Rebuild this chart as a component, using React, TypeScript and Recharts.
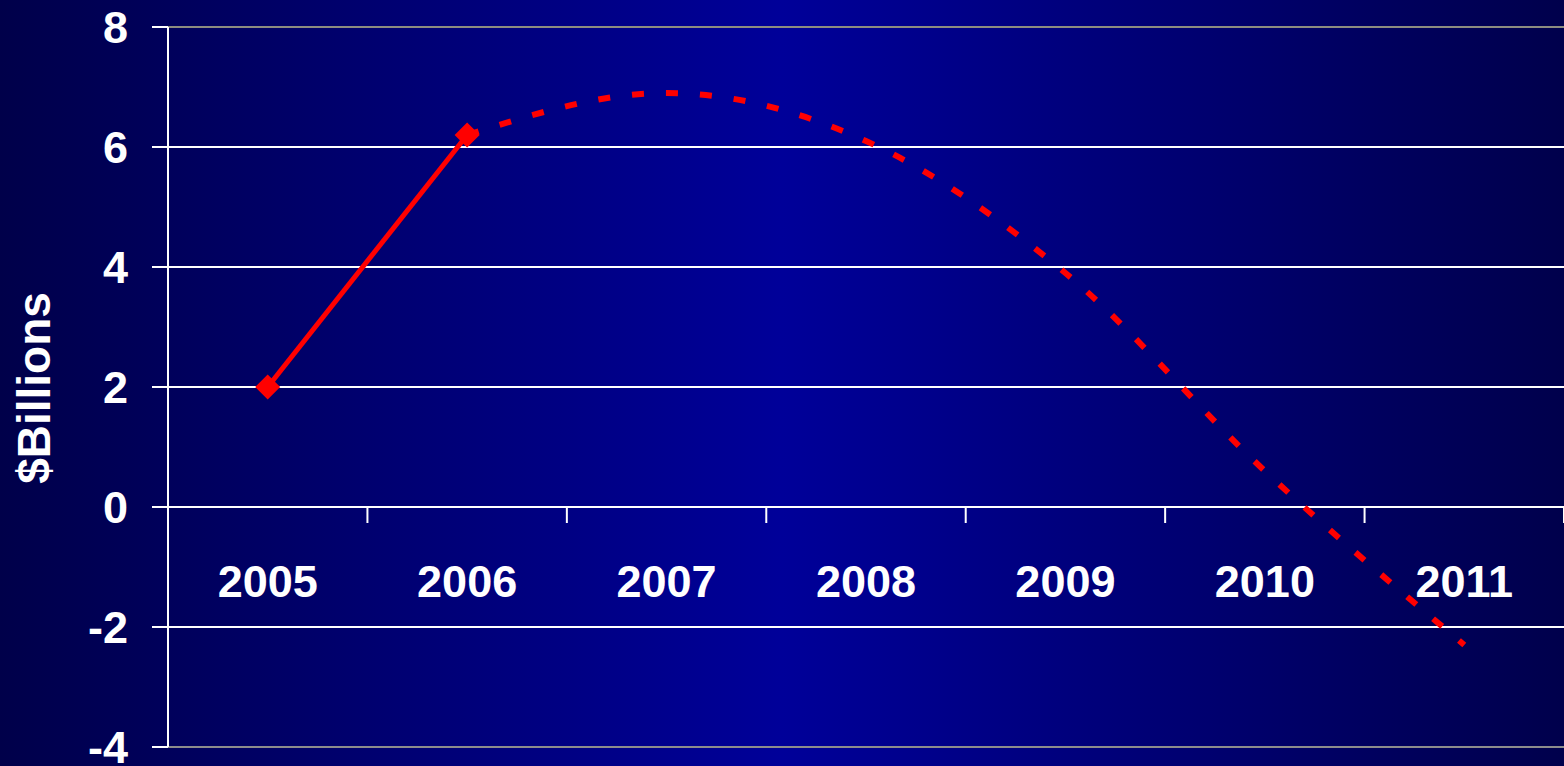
import React from "react";
import { LineChart, Line, XAxis, YAxis, CartesianGrid, ReferenceLine } from "recharts";

const years = ["2005", "2006", "2007", "2008", "2009", "2010", "2011"];
const actual = [2, 6.2, null, null, null, null, null];
const projected = [null, 6.2, 6.9, 6.1, 3.9, 0.6, -2.3];
const yTicks = [-4, -2, 0, 2, 4, 6, 8];

const data = years.map((year, i) => ({ year, actual: actual[i], projected: projected[i] }));

const W = 1564;
const H = 766;
const AXIS_W = 168;
const TOP = 27;
const BOTTOM = 19;
const band = (W - AXIS_W) / years.length;
const plotH = H - TOP - BOTTOM;
const zeroY = TOP + plotH * (8 / 12);

const font = "'Liberation Sans', Arial, sans-serif";

const XTick = (props: any) => {
    const { x, payload, index } = props;
    return (
        <g>
            <text x={x} y={zeroY + 90} textAnchor="middle" fill="#fff" fontFamily={font} fontWeight="bold" fontSize={45}>
                {payload.value}
            </text>
            <line x1={x - band / 2} x2={x - band / 2} y1={zeroY} y2={zeroY + 16} stroke="#fff" strokeWidth={2} />
            {index === years.length - 1 && (
                <line x1={x + band / 2} x2={x + band / 2} y1={zeroY} y2={zeroY + 16} stroke="#fff" strokeWidth={2} />
            )}
        </g>
    );
};

const Diamond = (props: any) => {
    const { cx, cy } = props;
    if (cx == null || cy == null) return null;
    const r = 12.5;
    return <polygon points={`${cx},${cy - r} ${cx + r},${cy} ${cx},${cy + r} ${cx - r},${cy}`} fill="#ff0000" />;
};

export default function App() {
    return (
        <div
            style={{
                position: "absolute",
                left: 0,
                top: 0,
                width: W,
                height: H,
                background: "linear-gradient(to right, #00004a 0%, #000099 50%, #00004c 100%)",
            }}
        >
            <LineChart width={W} height={H} data={data} margin={{ top: TOP, right: 0, bottom: BOTTOM - 1, left: 0 }}>
                <CartesianGrid vertical={false} stroke="#ffffff" strokeWidth={2} />
                <ReferenceLine y={8} stroke="#8c8c80" strokeWidth={2} />
                <ReferenceLine y={-4} stroke="#8c8c8c" strokeWidth={2} />
                <XAxis
                    dataKey="year"
                    height={1}
                    axisLine={false}
                    tickLine={false}
                    tick={<XTick />}
                    interval={0}
                    padding={{ left: band / 2, right: band / 2 }}
                />
                <YAxis
                    width={AXIS_W}
                    domain={[-4, 8]}
                    ticks={yTicks}
                    interval={0}
                    axisLine={{ stroke: "#fff", strokeWidth: 2 }}
                    tickLine={{ stroke: "#fff", strokeWidth: 2 }}
                    tickSize={16}
                    tickMargin={24}
                    tick={{ fill: "#fff", fontFamily: font, fontWeight: "bold", fontSize: 45 }}
                    label={{
                        content: () => (
                            <text
                                x={34}
                                y={388}
                                transform="rotate(-90 34 388)"
                                textAnchor="middle"
                                dominantBaseline="central"
                                fill="#fff"
                                fontFamily={font}
                                fontWeight="bold"
                                fontSize={46}
                            >
                                $Billions
                            </text>
                        ),
                    }}
                />
                <Line
                    dataKey="projected"
                    type="monotone"
                    stroke="#ff0000"
                    strokeWidth={6}
                    strokeDasharray="12 22"
                    dot={false}
                    activeDot={false}
                    connectNulls={false}
                    isAnimationActive={false}
                />
                <Line
                    dataKey="actual"
                    type="linear"
                    stroke="#ff0000"
                    strokeWidth={5}
                    dot={<Diamond />}
                    activeDot={false}
                    isAnimationActive={false}
                />
            </LineChart>
        </div>
    );
}
